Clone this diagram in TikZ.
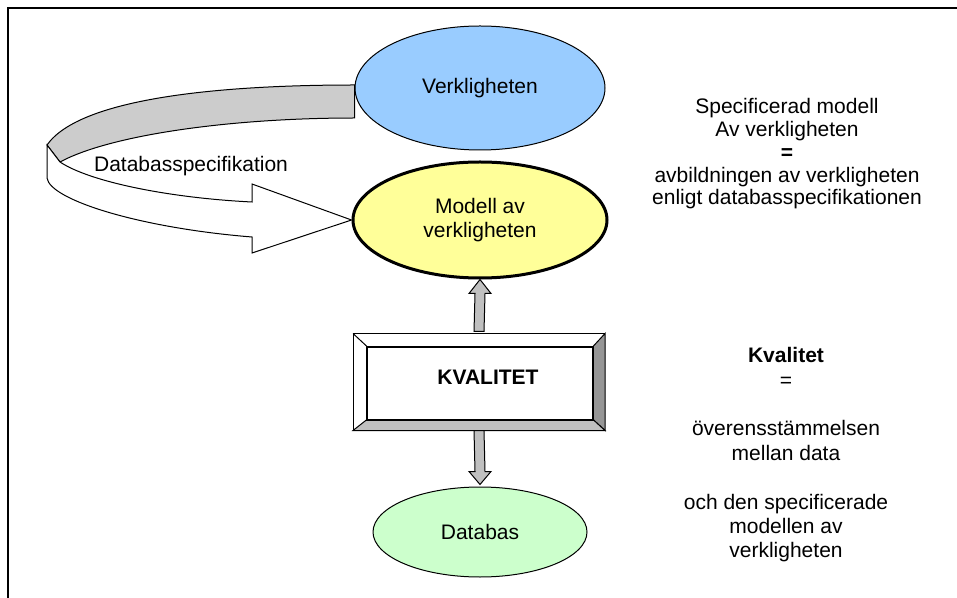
\documentclass[tikz,border=0pt]{standalone}
\usepackage{fontspec}
\setmainfont{Liberation Sans}
\usepackage{tikz}
\usetikzlibrary{shapes.geometric}

\definecolor{verkblue}{HTML}{99CCFF}
\definecolor{modellyellow}{HTML}{FFFF99}
\definecolor{dbgreen}{HTML}{CCFFCC}
\definecolor{bandgray}{HTML}{CCCCCC}
\definecolor{arrowgray}{HTML}{C0C0C0}
\definecolor{bevelgray}{HTML}{969696}

\begin{document}
\begin{tikzpicture}[x=0.5pt,y=-0.5pt,
  every node/.style={font=\fontsize{10.5}{12}\selectfont, inner sep=0pt},
  blob/.style={ellipse, draw=black, line width=0.5pt, align=center},
  blockarrow/.style={fill=arrowgray, draw=black, line width=0.5pt},
  sidetext/.style={align=center, anchor=north}]
\useasboundingbox (0,0) rectangle (957,598);
\draw[line width=1pt] (8,598) -- (8,8) -- (957,8);

% ellipses
\node[blob, fill=verkblue, minimum width=125pt, minimum height=62pt] (verk) at (480,88) {Verkligheten};
\node[blob, fill=modellyellow, line width=1.5pt, minimum width=127pt, minimum height=58pt] (modell) at (480,220) {Modell av\\verkligheten};
\node[blob, fill=dbgreen, minimum width=107pt, minimum height=45pt] (databas) at (480,532) {Databas};

% the box with bevel
\node[draw=black, fill=white, line width=0.5pt, minimum width=125.5pt, minimum height=48pt] (kval) at (479,382) {};
\filldraw[fill=bevelgray, draw=black, line width=0.5pt] (kval.north east) -- (kval.south east) -- ([shift={(-12,-11)}]kval.south east) -- ([shift={(-12,13)}]kval.north east) -- cycle;
\filldraw[fill=arrowgray, draw=black, line width=0.5pt] (kval.south west) -- ([shift={(14,-11)}]kval.south west) -- ([shift={(-12,-11)}]kval.south east) -- (kval.south east) -- cycle;
\draw[line width=0.5pt] (kval.north west) -- ([shift={(14,13)}]kval.north west);
\draw[line width=1pt] ([shift={(14,13)}]kval.north west) rectangle ([shift={(-12,-11)}]kval.south east);
\node[font=\fontsize{10.5}{12}\selectfont\bfseries] (kvaltext) at (488,377) {KVALITET};

% block arrows
\filldraw[blockarrow] ([shift={(-5,-2)}]kval.north) -- ([shift={(-5,14)}]modell.south) -- ([shift={(-11,14)}]modell.south) -- (modell.south) -- ([shift={(11,14)}]modell.south) -- ([shift={(5,14)}]modell.south) -- ([shift={(5,-2)}]kval.north) -- cycle;
\filldraw[blockarrow] ([shift={(-5,0)}]kval.south) -- ([shift={(-5,-15)}]databas.north) -- ([shift={(-11,-15)}]databas.north) -- ([shift={(0,-2)}]databas.north) -- ([shift={(11,-15)}]databas.north) -- ([shift={(5,-15)}]databas.north) -- ([shift={(5,0)}]kval.south) -- cycle;

% curved ribbon arrow
\filldraw[fill=bandgray, draw=black, line width=0.5pt] ([shift={(0,-3)}]verk.west) .. controls (220,85) and (80,98) .. (47,145) -- (60,162) .. controls (110,135) and (230,118) .. ([shift={(0,30)}]verk.west) -- cycle;
\filldraw[fill=white, draw=black, line width=0.5pt] (47,145) -- (47,178) .. controls (50,200) and (140,228) .. (252,237) -- (252,253) -- (modell.west) -- (252,184) -- (252,202) .. controls (170,198) and (90,182) .. (60,162) -- cycle;
\node[anchor=base] (spec) at (191,172) {Databasspecifikation};

% texts on the right
\node[sidetext, font=\fontsize{10.5}{11.4}\selectfont] (avbild) at (787,98) {Specificerad modell\\Av verkligheten\\\textbf{=}\\avbildningen av verkligheten\\enligt databasspecifikationen};
\node[sidetext, font=\fontsize{10.5}{12.2}\selectfont] (kvaldef) at (786,347) {\textbf{Kvalitet}\\=\\[12.2pt]överensstämmelsen\\mellan data\\[12.2pt]och den specificerade\\modellen av\\verkligheten};
\end{tikzpicture}
\end{document}
